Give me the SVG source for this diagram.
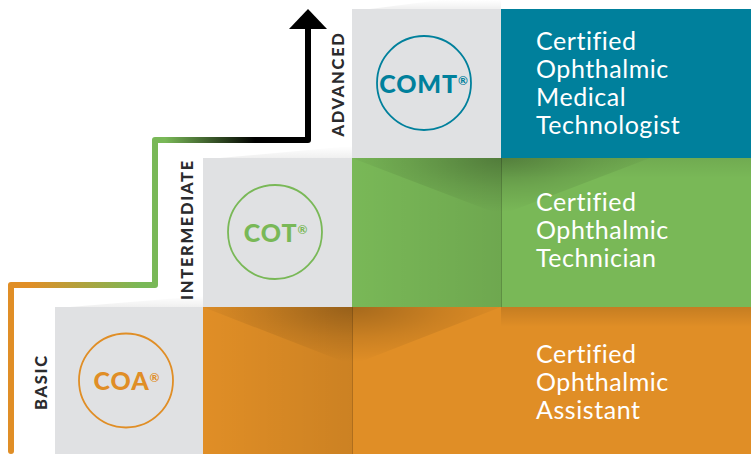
<svg xmlns="http://www.w3.org/2000/svg" width="751" height="454" viewBox="0 0 751 454">
<style>
.grey{fill:#e0e1e3}
.ring{fill:none;stroke-width:1.800}
.code{font-family:Lato,"Liberation Sans",sans-serif;font-weight:900;font-size:25px;text-anchor:middle;letter-spacing:.9px}
.reg{font-size:12px;font-weight:700}
.level{font-family:Lato,"Liberation Sans",sans-serif;font-weight:900;font-size:16.500px;fill:#2b2b2d;letter-spacing:1.7px;text-anchor:middle}
.name{font-family:Lato,"Liberation Sans",sans-serif;font-size:25px;fill:#fff;letter-spacing:.55px}
.line{fill:none;stroke-width:6;stroke-linecap:butt;stroke-linejoin:round}
</style>
<defs>
<linearGradient id="g1" gradientUnits="userSpaceOnUse" x1="30" y1="0" x2="140" y2="0"><stop offset="0" stop-color="#e08e26"/><stop offset="1" stop-color="#79b857"/></linearGradient>
<linearGradient id="g2" gradientUnits="userSpaceOnUse" x1="165" y1="0" x2="255" y2="0"><stop offset="0" stop-color="#79b857"/><stop offset="1" stop-color="#000"/></linearGradient>
<radialGradient id="sh" cx="0" cy="0" r="1" gradientTransform="translate(.5 0) scale(.56 .95)"><stop offset="0" stop-color="#000" stop-opacity=".26"/><stop offset=".55" stop-color="#000" stop-opacity=".1"/><stop offset="1" stop-color="#000" stop-opacity="0"/></radialGradient>
<linearGradient id="side" x1="0" x2="1" y1="0" y2="0"><stop offset="0" stop-color="#000" stop-opacity="0"/><stop offset="1" stop-color="#000" stop-opacity=".09"/></linearGradient>
<linearGradient id="top" x1="0" x2="0" y1="0" y2="1"><stop offset="0" stop-color="#000" stop-opacity=".12"/><stop offset="1" stop-color="#000" stop-opacity="0"/></linearGradient>
<linearGradient id="up" x1="0" x2="0" y1="1" y2="0"><stop offset="0" stop-color="#000" stop-opacity=".06"/><stop offset="1" stop-color="#000" stop-opacity="0"/></linearGradient>
</defs>
<rect width="751" height="454" fill="#fff"/>
<polygon points="70,307 203,307 203,296" fill="url(#up)"/>
<polygon points="220,158 352,158 352,146" fill="url(#up)"/>
<polygon points="370,9 501,9 501,0 440,0" fill="url(#up)"/>
<rect x="203" y="307" width="548" height="147" fill="#e08e26"/>
<rect x="352" y="158" width="399" height="149" fill="#79b857"/>
<rect x="501" y="9" width="250" height="149" fill="#00809c"/>
<rect x="203" y="307" width="149" height="147" fill="url(#side)"/>
<rect x="352" y="158" width="149" height="149" fill="url(#side)"/>
<rect x="501" y="307" width="250" height="20" fill="url(#top)"/>
<rect x="501" y="158" width="250" height="20" fill="url(#top)" opacity=".6"/>
<polygon points="203,307 501,307 352,365" fill="url(#sh)"/>
<polygon points="352,158 650,158 501,215" fill="url(#sh)"/>
<path d="M352.500 307V454M501.500 158V307" stroke="#000" stroke-opacity=".22" stroke-width="1" fill="none"/>
<g id="connectors">
<path class="line" stroke="#e08e26" d="M11 451V285H30"/>
<path d="M8 451a3 3 0 0 0 6 0z" fill="#e08e26"/>
<path d="M30 285H155" class="line" stroke="url(#g1)"/>
<path class="line" stroke="#79b857" d="M140 285H155V140H165"/>
<path d="M165 140H255" class="line" stroke="url(#g2)"/>
<path class="line" stroke="#000" d="M255 140H308V28"/>
<polygon points="308,9 327,29 289,29" fill="#000"/>
</g>
<g id="node-coa">
<rect class="grey" x="55" y="307" width="148" height="147"/>
<circle class="ring" cx="126" cy="380.500" r="47" stroke="#e08e26"/>
<text class="code" x="127" y="390" fill="#e08e26">COA<tspan class="reg" dy="-8">®</tspan></text>
<text class="level" transform="translate(47 382) rotate(-90)">BASIC</text>
<text class="name" x="536" y="363">Certified</text>
<text class="name" x="536" y="391">Ophthalmic</text>
<text class="name" x="536" y="419">Assistant</text>
</g>
<g id="node-cot">
<rect class="grey" x="203" y="158" width="149" height="149"/>
<circle class="ring" cx="275" cy="232" r="47" stroke="#79b857"/>
<text class="code" x="276" y="242" fill="#79b857">COT<tspan class="reg" dy="-8">®</tspan></text>
<text class="level" transform="translate(193 229.500) rotate(-90)">INTERMEDIATE</text>
<text class="name" x="536" y="211">Certified</text>
<text class="name" x="536" y="239">Ophthalmic</text>
<text class="name" x="536" y="267">Technician</text>
</g>
<g id="node-comt">
<rect class="grey" x="352" y="9" width="149" height="149"/>
<circle class="ring" cx="424" cy="83" r="47" stroke="#00809c"/>
<text class="code" x="424" y="93" fill="#00809c">COMT<tspan class="reg" dy="-8">®</tspan></text>
<text class="level" transform="translate(344 84) rotate(-90)">ADVANCED</text>
<text class="name" x="536" y="50">Certified</text>
<text class="name" x="536" y="78">Ophthalmic</text>
<text class="name" x="536" y="106">Medical</text>
<text class="name" x="536" y="134">Technologist</text>
</g>
</svg>
